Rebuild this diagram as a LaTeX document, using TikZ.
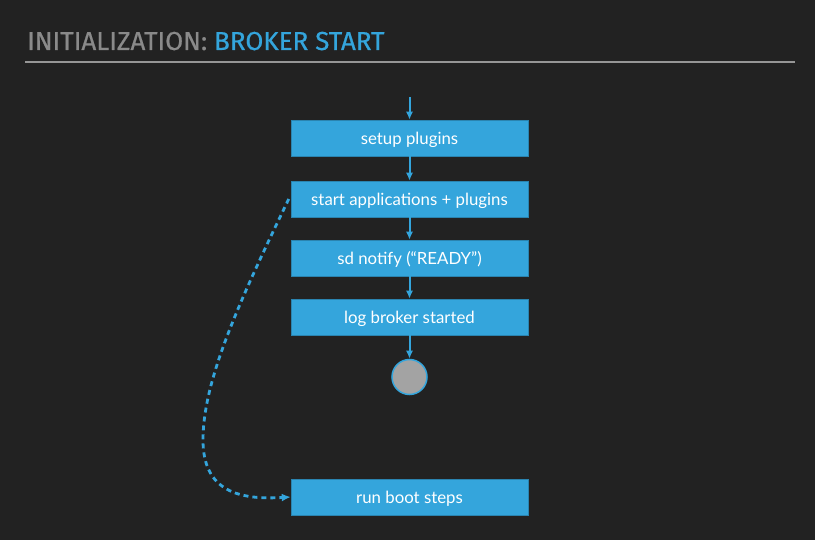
\documentclass[tikz,border=0pt]{standalone}
\usepackage{fontspec}
\setmainfont{Lato}
\newfontfamily\titlefont[FakeBold=0.6]{Fira Sans}
\usetikzlibrary{arrows.meta}
\definecolor{bg}{HTML}{222222}
\definecolor{bblue}{HTML}{34A5DC}
\definecolor{tgray}{HTML}{8A8A8A}
\definecolor{cgray}{HTML}{A3A3A3}
\begin{document}
\begin{tikzpicture}[x=1pt,y=-1pt,
  stepbox/.style={fill=bblue,draw=bblue!80!black,line width=0.5pt,minimum width=237pt,minimum height=36pt,inner sep=0pt,text height=13pt,text depth=0pt,text=white,font=\fontsize{16.8}{19}\selectfont},
  flow/.style={draw=bblue,line width=2pt,-{Latex[length=8pt,width=7pt]}},
  dashflow/.style={draw=bblue,line width=2.8pt,dash pattern=on 5pt off 4pt,-{Latex[length=9pt,width=8pt]}}]
\useasboundingbox[fill=bg] (0,0) rectangle (815,540);
\node[anchor=base west,inner sep=0pt,font=\titlefont\fontsize{26}{29}\selectfont] (title) at (27,50)
  {\textcolor{tgray}{INITIALIZATION:} \textcolor{bblue}{BROKER START}};
\coordinate (rl) at (25,62.5);
\coordinate (rr) at (795,62.5);
\draw[tgray!90,line width=2pt] (rl) -- (rr);
\coordinate (top) at (409.5,97);
\node[stepbox] (s1) at (409.5,138) {setup plugins};
\node[stepbox] (s2) at (409.5,199) {start applications + plugins};
\node[stepbox] (s3) at (409.5,258) {sd notify (“READY”)};
\node[stepbox] (s4) at (409.5,317) {log broker started};
\node[circle,fill=cgray,draw=bblue,line width=1.5pt,minimum size=35pt,inner sep=0pt] (end) at (409.5,377) {};
\node[stepbox] (s5) at (409.5,497) {run boot steps};
\draw[flow] (top) -- (s1);
\draw[flow] (s1) -- (s2);
\draw[flow] (s2) -- (s3);
\draw[flow] (s3) -- (s4);
\draw[flow] (s4) -- (end);
\draw[dashflow] ([xshift=-2pt]s2.west) .. controls (240,300) and (203,380) .. (203,440) .. controls (203,492) and (240,500) .. (s5.west);
\end{tikzpicture}
\end{document}
